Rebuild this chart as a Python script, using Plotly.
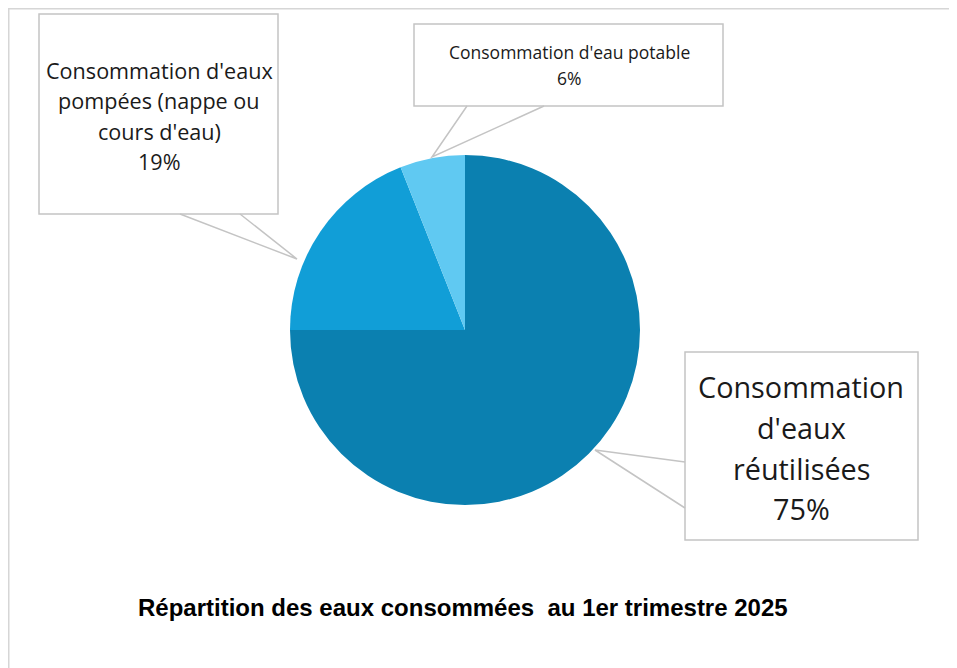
import plotly.graph_objects as go

# ---- data ----
labels = ["Consommation d'eaux réutilisées", "Consommation d'eaux pompées (nappe ou cours d'eau)", "Consommation d'eau potable"]
display_labels = ["Consommation<br>d'eaux<br>réutilisées", "Consommation d'eaux<br>pompées (nappe ou<br>cours d'eau)", "Consommation d'eau potable"]
values = [75, 19, 6]
colors = ["#0B80B0", "#119ED7", "#60C9F2"]
title_text = "Répartition des eaux consommées  au 1er trimestre 2025"

# page offset (body margin) compensation
OFF = 8
W, H = 957 - OFF, 668 - OFF
def px(x): return (x - OFF) / W
def py(y): return 1 - (y - OFF) / H

cx, cy, r = 465, 330, 175

fig = go.Figure(go.Pie(
    labels=labels, values=values, sort=False, direction="clockwise", rotation=0,
    marker=dict(colors=colors, line=dict(color="white", width=0)),
    textinfo="none", hoverinfo="label+percent", showlegend=False,
    domain=dict(x=[px(cx - r), px(cx + r)], y=[py(cy + r), py(cy - r)]),
))

total = sum(values)
pcts = [round(v * 100 / total) for v in values]

LABEL_FONT = "'Open Sans', 'Noto Sans', sans-serif"
callouts = [
    dict(box=(685, 352, 918, 540), leader=[(685, 462), (595, 450), (685, 508)], y0=386, pitch=41, size=28.8, cxm=801),
    dict(box=(39, 14, 278, 214), leader=[(180, 214), (297, 259), (240, 214)], y0=70, pitch=30.5, size=21.6, cxm=159),
    dict(box=(414, 24, 723, 106), leader=[(467, 106), (432, 157), (544, 106)], y0=52, pitch=26, size=17.5, cxm=569),
]

shapes = []
annotations = []
# frame
shapes.append(dict(type="line", xref="paper", yref="paper", x0=px(8), x1=1, y0=py(8.5), y1=py(8.5),
                   line=dict(color="#d6d6d6", width=2)))
shapes.append(dict(type="line", xref="paper", yref="paper", x0=px(8.5), x1=px(8.5), y0=0, y1=py(8),
                   line=dict(color="#d6d6d6", width=2)))

for i, c in enumerate(callouts):
    x0, y0, x1, y1 = c["box"]
    shapes.append(dict(type="rect", xref="paper", yref="paper", x0=px(x0), x1=px(x1), y0=py(y1), y1=py(y0),
                       fillcolor="white", line=dict(color="#c4c4c4", width=1.5)))
    (ax, ay), (tx, ty), (bx, by) = c["leader"]
    path = f"M {px(ax)},{py(ay)} L {px(tx)},{py(ty)} L {px(bx)},{py(by)}"
    shapes.append(dict(type="path", xref="paper", yref="paper", path=path,
                       line=dict(color="#c4c4c4", width=1.5)))
    lines = display_labels[i].split("<br>") + [f"{pcts[i]}%"]
    for k, t in enumerate(lines):
        annotations.append(dict(text=t, xref="paper", yref="paper", x=px(c["cxm"]), y=py(c["y0"] + k * c["pitch"]),
                                xanchor="center", yanchor="middle", showarrow=False,
                                font=dict(family=LABEL_FONT, size=c["size"], color="#1a1a1a")))

annotations.append(dict(text=f"<b>{title_text}</b>", xref="paper", yref="paper", x=px(463), y=py(607),
                        xanchor="center", yanchor="middle", showarrow=False,
                        font=dict(family="'Liberation Sans', Arial, sans-serif", size=24, color="#000000")))

fig.update_layout(width=W, height=H, margin=dict(l=0, r=0, t=0, b=0),
                  paper_bgcolor="white", plot_bgcolor="white",
                  shapes=shapes, annotations=annotations)

fig.write_html("out.html", config={"displayModeBar": False})
